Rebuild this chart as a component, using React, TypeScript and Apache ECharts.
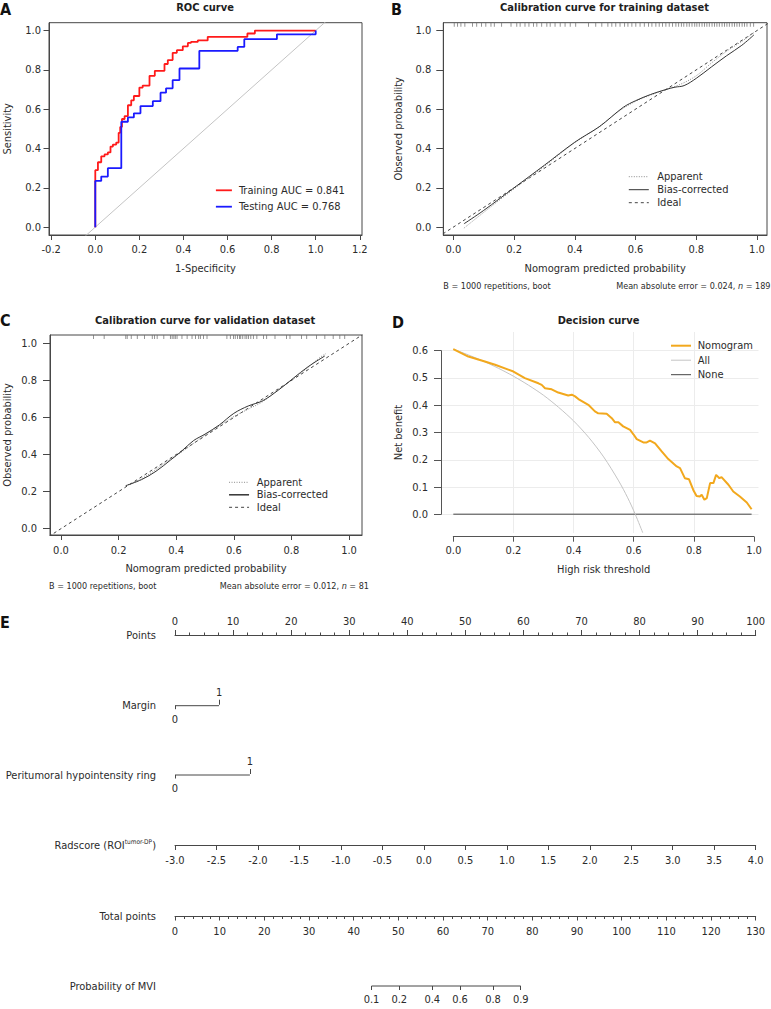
import React, { useEffect, useRef } from "react";
import * as echarts from "echarts";

const FONT = '"DejaVu Sans Condensed", "DejaVu Sans", sans-serif';
const INK = "#2b2b2b";
const AXIS = "#474747";

// ---------- Panel A: ROC ----------
const rocTrain: number[][] = [
  [0, 0], [0, 0.29], [0.012, 0.33], [0.027, 0.36], [0.042, 0.37], [0.057, 0.38], [0.069, 0.41],
  [0.08, 0.42], [0.095, 0.43], [0.106, 0.48], [0.113, 0.51], [0.121, 0.55], [0.133, 0.565],
  [0.148, 0.62], [0.163, 0.645], [0.175, 0.667], [0.2, 0.71], [0.215, 0.72], [0.246, 0.77],
  [0.27, 0.795], [0.314, 0.83], [0.329, 0.85], [0.351, 0.887], [0.37, 0.9], [0.397, 0.92],
  [0.42, 0.937], [0.434, 0.942], [0.465, 0.95], [0.51, 0.968], [0.69, 0.985], [0.724, 1.0], [1.0, 1.0],
];
const rocTest: number[][] = [
  [0, 0], [0, 0.235], [0.027, 0.257], [0.057, 0.3], [0.118, 0.536], [0.148, 0.558], [0.175, 0.579],
  [0.205, 0.616], [0.261, 0.641], [0.296, 0.684], [0.321, 0.706], [0.351, 0.748], [0.382, 0.807],
  [0.472, 0.897], [0.646, 0.917], [0.676, 0.956], [0.824, 0.981], [1.0, 1.0],
];
const rocDiagonal: number[][] = [[-0.3, -0.3], [1.3, 1.3]];
const rocXTicks = [-0.2, 0, 0.2, 0.4, 0.6, 0.8, 1.0, 1.2];
const unitTicks = [0, 0.2, 0.4, 0.6, 0.8, 1.0];

// ---------- Panel B: calibration (training) ----------
const calTrainApparent: number[][] = [
  [0.035, -0.005], [0.1, 0.075], [0.2, 0.195], [0.3, 0.31], [0.4, 0.43], [0.48, 0.51], [0.52, 0.56],
  [0.56, 0.605], [0.6, 0.64], [0.65, 0.672], [0.7, 0.7], [0.75, 0.728], [0.8, 0.77], [0.85, 0.835],
  [0.9, 0.895], [0.95, 0.945], [0.99, 0.99],
];
const calTrainBias: number[][] = [
  [0.035, 0.017], [0.1, 0.085], [0.2, 0.2], [0.3, 0.315], [0.4, 0.432], [0.48, 0.51], [0.52, 0.56],
  [0.56, 0.61], [0.6, 0.643], [0.65, 0.675], [0.7, 0.7], [0.73, 0.712], [0.76, 0.72], [0.8, 0.757],
  [0.85, 0.815], [0.9, 0.872], [0.95, 0.925], [0.99, 0.978],
];
const calTrainRug = [
  0.003, 0.014, 0.025, 0.038, 0.063, 0.077, 0.093, 0.107, 0.124, 0.135, 0.159, 0.19, 0.209, 0.22,
  0.236, 0.249, 0.264, 0.275, 0.291, 0.308, 0.319, 0.335, 0.352, 0.368, 0.385, 0.403, 0.445, 0.469,
  0.489, 0.509, 0.522, 0.535, 0.549, 0.564, 0.575, 0.588, 0.601, 0.615, 0.629, 0.643, 0.654, 0.667,
  0.678, 0.689, 0.7, 0.711, 0.722, 0.733, 0.742, 0.751, 0.759, 0.769, 0.777, 0.786, 0.795, 0.802,
  0.81, 0.819, 0.827, 0.835, 0.843, 0.852, 0.86, 0.868, 0.876, 0.885, 0.893, 0.901, 0.909, 0.918,
  0.926, 0.934, 0.942, 0.951, 0.959, 0.967, 0.978, 0.989,
];

// ---------- Panel C: calibration (validation) ----------
const calValApparent: number[][] = [
  [0.225, 0.232], [0.28, 0.27], [0.33, 0.32], [0.38, 0.375], [0.42, 0.415], [0.46, 0.46], [0.5, 0.505],
  [0.55, 0.555], [0.6, 0.605], [0.65, 0.645], [0.7, 0.685], [0.75, 0.745], [0.8, 0.8], [0.85, 0.86],
  [0.9, 0.925], [0.92, 0.945],
];
const calValBias: number[][] = [
  [0.225, 0.232], [0.28, 0.265], [0.33, 0.31], [0.38, 0.37], [0.42, 0.42], [0.46, 0.475], [0.5, 0.51],
  [0.55, 0.56], [0.6, 0.622], [0.65, 0.662], [0.7, 0.69], [0.755, 0.748], [0.806, 0.811], [0.858, 0.874],
  [0.916, 0.932],
];
const calValRug = [
  0.113, 0.15, 0.225, 0.23, 0.244, 0.265, 0.29, 0.317, 0.325, 0.334, 0.357, 0.38, 0.386, 0.392, 0.397,
  0.403, 0.42, 0.438, 0.455, 0.467, 0.478, 0.484, 0.495, 0.507, 0.576, 0.588, 0.599, 0.605, 0.613,
  0.62, 0.624, 0.631, 0.639, 0.645, 0.651, 0.659, 0.668, 0.68, 0.703, 0.714, 0.743, 0.783, 0.795,
  0.835, 0.853, 0.887, 0.916, 0.945, 0.968, 0.985,
];
const idealLine: number[][] = [[-0.2, -0.2], [1.2, 1.2]];

// ---------- Panel D: decision curve ----------
const dcaNomogram: number[][] = [
  [0, 0.605], [0.05, 0.578], [0.105, 0.56], [0.139, 0.548], [0.2, 0.523], [0.238, 0.499], [0.283, 0.48],
  [0.294, 0.474], [0.305, 0.462], [0.327, 0.458], [0.349, 0.446], [0.382, 0.435], [0.394, 0.438],
  [0.405, 0.432], [0.416, 0.422], [0.449, 0.401], [0.471, 0.377], [0.482, 0.37], [0.51, 0.368],
  [0.527, 0.352], [0.538, 0.337], [0.549, 0.337], [0.565, 0.322], [0.588, 0.309], [0.599, 0.293],
  [0.61, 0.275], [0.632, 0.263], [0.643, 0.263], [0.654, 0.27], [0.671, 0.26], [0.693, 0.23],
  [0.715, 0.202], [0.743, 0.175], [0.754, 0.169], [0.77, 0.132], [0.784, 0.128], [0.798, 0.089],
  [0.809, 0.067], [0.82, 0.065], [0.826, 0.071], [0.835, 0.053], [0.843, 0.059], [0.854, 0.114],
  [0.865, 0.114], [0.874, 0.144], [0.885, 0.132], [0.892, 0.136], [0.915, 0.108], [0.931, 0.083],
  [0.953, 0.065], [0.976, 0.043], [0.992, 0.018],
];
const dcaAll: number[][] = [
  [0, 0.605], [0.05, 0.584], [0.1, 0.561], [0.15, 0.535], [0.2, 0.506], [0.25, 0.473], [0.3, 0.436],
  [0.35, 0.392], [0.4, 0.342], [0.45, 0.282], [0.5, 0.21], [0.55, 0.122], [0.58, 0.06], [0.605, 0.0],
  [0.63, -0.068],
];
const dcaNone: number[][] = [[0, 0], [0.992, 0]];

// ---------- Panel E: nomogram ----------
const marginLevels = ["0", "1"];
const marginPoints = [0, 7.58];
const ringLevels = ["0", "1"];
const ringPoints = [0, 12.9];
const radscoreRange = [-3, 4];
const totalPointsRange = [0, 130];
const probLabels = ["0.1", "0.2", "0.4", "0.6", "0.8", "0.9"];
const probTotalPoints = [44.0, 50.2, 57.6, 63.8, 71.2, 77.4];

const fmt1 = (v: number) => v.toFixed(1);

function boxX(grid: number, min: number, max: number, ticks: number[], name: string, gap: number, lblMargin: number) {
  return {
    type: "value", gridIndex: grid, min, max,
    axisLine: { show: true, onZero: false, lineStyle: { color: AXIS, width: 1 } },
    axisTick: { show: true, inside: false, length: 5, customValues: ticks, lineStyle: { color: AXIS } },
    axisLabel: { show: true, customValues: ticks, formatter: fmt1, margin: lblMargin, fontSize: 11, color: INK },
    splitLine: { show: false },
    name, nameLocation: "middle", nameGap: gap,
    nameTextStyle: { fontSize: 11, color: INK, lineHeight: 13 },
  };
}
function boxY(grid: number, min: number, max: number, ticks: number[], name: string, gap: number, lblMargin: number, tick: number) {
  return {
    type: "value", gridIndex: grid, min, max,
    axisLine: { show: true, onZero: false, lineStyle: { color: AXIS, width: 1 } },
    axisTick: { show: true, inside: false, length: tick, customValues: ticks, lineStyle: { color: AXIS } },
    axisLabel: { show: true, customValues: ticks, formatter: fmt1, margin: lblMargin, fontSize: 11, color: INK },
    splitLine: { show: false },
    name, nameLocation: "middle", nameGap: gap,
    nameTextStyle: { fontSize: 11, color: INK, lineHeight: 13 },
  };
}
const hiddenY = (grid: number, min = 0, max = 1) => ({
  type: "value", gridIndex: grid, min, max, show: false, axisLine: { onZero: false },
});

const NOMO_LEFT = 175;
const NOMO_WIDTH = 580.7;
const rowName = { fontSize: 11, color: INK };

function levelAxis(grid: number, pos: "top" | "bottom", value: number, label: string, name?: string) {
  return {
    type: "value", gridIndex: grid, position: pos, min: 0, max: 100,
    axisLine: { show: false, onZero: false },
    axisTick: { show: true, inside: false, length: pos === "top" ? 5 : 3.5, customValues: [value], lineStyle: { color: AXIS } },
    axisLabel: { show: true, customValues: [value], formatter: () => label, margin: pos === "top" ? 7 : 8, fontSize: 11, color: INK },
    splitLine: { show: false },
    ...(name ? { name, nameLocation: "start", nameGap: 19, nameTextStyle: rowName } : {}),
  };
}

function buildOption(): any {
  const grids = [
    { left: 48.3, top: 22.7, width: 313.7, height: 212.3 }, // 0 A
    { left: 443.3, top: 22.7, width: 323.7, height: 212.3 }, // 1 B
    { left: 49, top: 335, width: 313, height: 200 }, // 2 C
    { left: 453.3, top: 332, width: 300.7, height: 201 }, // 3 D data
    { left: 441, top: 350.7, width: 317.5, height: 163.6 }, // 4 D y gridlines
    { left: NOMO_LEFT, top: 635, width: NOMO_WIDTH, height: 1 }, // 5 Points
    { left: NOMO_LEFT, top: 704.7, width: NOMO_WIDTH, height: 1 }, // 6 Margin
    { left: NOMO_LEFT, top: 774, width: NOMO_WIDTH, height: 1 }, // 7 Ring
    { left: NOMO_LEFT, top: 844, width: NOMO_WIDTH, height: 1 }, // 8 Radscore
    { left: NOMO_LEFT, top: 915, width: NOMO_WIDTH, height: 1 }, // 9 Total points
    { left: NOMO_LEFT, top: 985, width: NOMO_WIDTH, height: 1 }, // 10 Probability
  ].map((g, i) => ({
    ...g,
    show: i <= 2,
    borderColor: AXIS,
    borderWidth: 1,
    backgroundColor: "transparent",
    containLabel: false,
  }));

  const xAxis: any[] = [
    boxX(0, -0.21, 1.21, rocXTicks, "1-Specificity", 27, 9),
    boxX(1, -0.033, 1.033, unitTicks, "Nomogram predicted probability", 27, 9),
    boxX(2, -0.038, 1.045, unitTicks, "Nomogram predicted probability", 27, 10),
    {
      type: "value", gridIndex: 3, min: 0, max: 1, interval: 0.2, offset: 3.7,
      axisLine: { show: true, onZero: false, lineStyle: { color: "#555" } },
      axisTick: { show: true, inside: false, length: 5, lineStyle: { color: "#555" } },
      axisLabel: { formatter: fmt1, margin: 8, fontSize: 11, color: INK },
      splitLine: { show: true, showMinLine: false, showMaxLine: false, lineStyle: { color: "#ececec", width: 1 } },
      name: "High risk threshold", nameLocation: "middle", nameGap: 26,
      nameTextStyle: { fontSize: 11, color: INK, lineHeight: 13 },
    },
    { type: "value", gridIndex: 4, min: 0, max: 1, show: false, axisLine: { onZero: false } },
    {
      type: "value", gridIndex: 5, position: "top", min: 0, max: 100, interval: 10,
      axisLine: { show: true, onZero: false, lineStyle: { color: AXIS } },
      axisTick: { show: true, inside: false, length: 5, lineStyle: { color: AXIS } },
      minorTick: { show: true, splitNumber: 4, length: 2.5, lineStyle: { color: AXIS } },
      axisLabel: { margin: 8, fontSize: 11, color: INK },
      splitLine: { show: false },
      name: "Points", nameLocation: "start", nameGap: 19, nameTextStyle: rowName,
    },
    levelAxis(6, "bottom", marginPoints[0], marginLevels[0], "Margin"),
    levelAxis(6, "top", marginPoints[1], marginLevels[1]),
    levelAxis(7, "bottom", ringPoints[0], ringLevels[0], "Peritumoral hypointensity ring"),
    levelAxis(7, "top", ringPoints[1], ringLevels[1]),
    {
      type: "value", gridIndex: 8, position: "bottom", min: radscoreRange[0], max: radscoreRange[1], interval: 0.5,
      axisLine: { show: true, onZero: false, lineStyle: { color: AXIS } },
      axisTick: { show: true, inside: false, length: 5, lineStyle: { color: AXIS } },
      axisLabel: { formatter: fmt1, margin: 10, fontSize: 11, color: INK },
      splitLine: { show: false },
      name: "Radscore (ROI{sup|tumor-DP})", nameLocation: "start", nameGap: 19,
      nameTextStyle: {
        fontSize: 11, color: INK,
        rich: { sup: { fontSize: 6.5, fontFamily: FONT, color: INK, verticalAlign: "top", padding: [0, 0, 7, 0] } },
      },
    },
    {
      type: "value", gridIndex: 9, position: "bottom", min: totalPointsRange[0], max: totalPointsRange[1], interval: 10,
      axisLine: { show: true, onZero: false, lineStyle: { color: AXIS } },
      axisTick: { show: true, inside: false, length: 4.5, lineStyle: { color: AXIS } },
      minorTick: { show: true, splitNumber: 5, length: 3, lineStyle: { color: AXIS } },
      axisLabel: { margin: 10, fontSize: 11, color: INK },
      splitLine: { show: false },
      name: "Total points", nameLocation: "start", nameGap: 19, nameTextStyle: rowName,
    },
    {
      type: "value", gridIndex: 10, position: "bottom", min: totalPointsRange[0], max: totalPointsRange[1],
      axisLine: { show: false, onZero: false },
      axisTick: { show: true, inside: false, length: 4, customValues: probTotalPoints, lineStyle: { color: AXIS } },
      axisLabel: {
        customValues: probTotalPoints,
        formatter: (v: number) => probLabels[probTotalPoints.indexOf(v)] ?? "",
        margin: 8, fontSize: 11, color: INK,
      },
      splitLine: { show: false },
      name: "Probability of MVI", nameLocation: "start", nameGap: 19, nameTextStyle: rowName,
    },
  ];

  const yAxis: any[] = [
    boxY(0, -0.04, 1.04, unitTicks, "Sensitivity", 35, 8, 5.5),
    boxY(1, -0.04, 1.04, unitTicks, "Observed probability", 38.5, 12, 7),
    boxY(2, -0.034, 1.045, unitTicks, "Observed probability", 36, 13, 7),
    hiddenY(3, -0.069, 0.668),
    {
      type: "value", gridIndex: 4, min: 0, max: 0.6, interval: 0.1,
      axisLine: { show: true, onZero: false, lineStyle: { color: "#555" } },
      axisTick: { show: true, inside: false, length: 7, lineStyle: { color: "#555" } },
      axisLabel: { formatter: fmt1, margin: 13, fontSize: 11, color: INK },
      splitLine: { show: true, lineStyle: { color: "#ececec", width: 1 } },
      name: "Net benefit", nameLocation: "middle", nameGap: 36.5,
      nameTextStyle: { fontSize: 11, color: INK, lineHeight: 13 },
    },
    hiddenY(5), hiddenY(6), hiddenY(7), hiddenY(8), hiddenY(9), hiddenY(10),
  ];

  const line = (name: string, xi: number, yi: number, data: number[][], color: string, width: number, type: any = "solid", extra: any = {}) => ({
    type: "line", name, xAxisIndex: xi, yAxisIndex: yi, data, symbol: "none", silent: true,
    lineStyle: { color, width, type }, itemStyle: { color }, ...extra,
  });
  const rug = (xi: number, yi: number, vals: number[], top: number) => ({
    type: "scatter", name: "rug", xAxisIndex: xi, yAxisIndex: yi, clip: false, silent: true,
    data: vals.map((v) => [v, top]), symbol: "rect", symbolSize: [0.9, 4], symbolOffset: [0, 2],
    itemStyle: { color: "#6a6a6a" },
  });

  const series: any[] = [
    line("diag", 0, 0, rocDiagonal, "#c4c4c4", 1),
    line("Training AUC = 0.841", 0, 0, rocTrain, "#ff1a1a", 1.8, "solid", { step: "end" }),
    line("Testing AUC = 0.768", 0, 0, rocTest, "#1a1aff", 1.8, "solid", { step: "end" }),

    line("Ideal", 1, 1, idealLine, "#444", 1, [3, 3]),
    line("Apparent", 1, 1, calTrainApparent, "#8a8a8a", 1, [1, 1.5], { smooth: 0.35 }),
    line("Bias-corrected", 1, 1, calTrainBias, "#333", 1, "solid", { smooth: 0.35 }),
    rug(1, 1, calTrainRug, 1.04),

    line("Ideal", 2, 2, idealLine, "#444", 1, [3, 3]),
    line("Apparent", 2, 2, calValApparent, "#8a8a8a", 1, [1, 1.5], { smooth: 0.35 }),
    line("Bias-corrected", 2, 2, calValBias, "#333", 1, "solid", { smooth: 0.35 }),
    rug(2, 2, calValRug, 1.045),

    line("None", 3, 3, dcaNone, "#444", 1),
    line("All", 3, 3, dcaAll, "#c4c4c4", 1, "solid", { smooth: 0.3 }),
    line("Nomogram", 3, 3, dcaNomogram, "#f2a81d", 2),

    line("marginLine", 6, 6, [[marginPoints[0], 0], [marginPoints[1], 0]], AXIS, 1, "solid", { clip: false }),
    line("ringLine", 8, 7, [[ringPoints[0], 0], [ringPoints[1], 0]], AXIS, 1, "solid", { clip: false }),
    line("probLine", 12, 10, [[probTotalPoints[0], 0], [probTotalPoints[probTotalPoints.length - 1], 0]], AXIS, 1, "solid", { clip: false }),
  ];

  const legendBase = {
    orient: "vertical", selectedMode: false, itemHeight: 10, padding: 0,
    itemStyle: { opacity: 0, borderWidth: 0 },
    lineStyle: { width: 1 },
    textStyle: { fontSize: 11, color: INK, lineHeight: 12, padding: [0, 0, 0, 2] },
  };
  const item = (name: string, width: number) => ({ name, lineStyle: { width } });
  const legend = [
    { ...legendBase, left: 215, top: 184.3, itemWidth: 16, itemGap: 4.4, lineStyle: { width: 1.8 }, data: [item("Training AUC = 0.841", 1.8), item("Testing AUC = 0.768", 1.8)] },
    { ...legendBase, left: 628.3, top: 170.7, itemWidth: 20, itemGap: 1, data: [item("Apparent", 1), item("Bias-corrected", 1), item("Ideal", 1)], textStyle: { ...legendBase.textStyle, padding: [0, 0, 0, 3.4] } },
    { ...legendBase, left: 228.3, top: 476.3, itemWidth: 20, itemGap: 0.5, data: [item("Apparent", 1), item("Bias-corrected", 1.5), item("Ideal", 1)], textStyle: { ...legendBase.textStyle, padding: [0, 0, 0, 2.7] } },
    { ...legendBase, left: 670, top: 339.7, itemWidth: 20, itemGap: 2.5, data: [item("Nomogram", 2), item("All", 1), item("None", 1)], textStyle: { ...legendBase.textStyle, padding: [0, 0, 0, 1.7] } },
  ];

  const titleStyle = { fontSize: 11, fontWeight: "bold", color: "#1e1e1e", fontFamily: FONT, lineHeight: 13 };
  const title = [
    { text: "ROC curve", left: 205, top: 0.8, textAlign: "center", padding: 0, textStyle: titleStyle },
    { text: "Calibration curve for training dataset", left: 604.5, top: 0.8, textAlign: "center", padding: 0, textStyle: titleStyle },
    { text: "Calibration curve for validation dataset", left: 205.2, top: 314.2, textAlign: "center", padding: 0, textStyle: titleStyle },
    { text: "Decision curve", left: 598.5, top: 314.2, textAlign: "center", padding: 0, textStyle: titleStyle },
  ];

  const letter = (t: string, x: number, y: number) => ({
    type: "text", x, y, silent: true,
    style: { text: t, fill: "#111", fontSize: 16, fontWeight: "bold", fontFamily: FONT, verticalAlign: "top", align: "left" },
  });
  const foot = (t: string, x: number, y: number, align: string) => ({
    type: "text", x, y, silent: true,
    style: {
      text: t, fill: INK, fontSize: 9, fontFamily: FONT, verticalAlign: "middle", align,
      rich: { i: { fontStyle: "italic", fontSize: 9, fontFamily: FONT, fill: INK } },
    },
  });
  const graphic = [
    letter("A", 0, 1.5),
    letter("B", 391, 1.5),
    letter("C", 0, 312),
    letter("D", 392, 314),
    letter("E", 0, 614),
    foot("B = 1000 repetitions, boot", 443.3, 286, "left"),
    foot("Mean absolute error = 0.024, {i|n} = 189", 770.5, 286, "right"),
    foot("B = 1000 repetitions, boot", 49, 586, "left"),
    foot("Mean absolute error = 0.012, {i|n} = 81", 369, 586, "right"),
  ];

  return {
    animation: false,
    backgroundColor: "#ffffff",
    textStyle: { fontFamily: FONT, color: INK },
    title, legend, grid: grids, xAxis, yAxis, series, graphic,
  };
}

export default function App() {
  const ref = useRef<HTMLDivElement>(null);
  useEffect(() => {
    document.body.style.margin = "0";
    const chart = echarts.init(ref.current!, null, { renderer: "svg" });
    chart.setOption(buildOption());
    return () => chart.dispose();
  }, []);
  return <div ref={ref} style={{ width: 771, height: 1009 }} />;
}
